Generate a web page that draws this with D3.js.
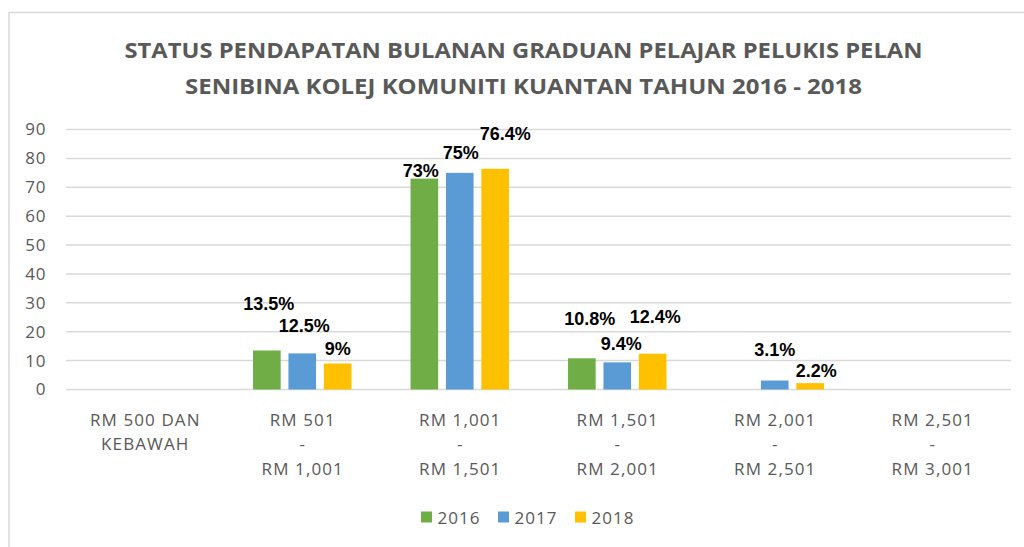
<!DOCTYPE html>
<html><head><meta charset="utf-8">
<script src="https://cdn.jsdelivr.net/npm/d3@7"></script>
<style>
html,body{margin:0;padding:0;background:#fff;}
svg{display:block;}
</style></head>
<body>
<svg id="chart" width="1024" height="547"></svg>
<script>
const titleLines = ["STATUS PENDAPATAN BULANAN GRADUAN PELAJAR PELUKIS PELAN",
                    "SENIBINA KOLEJ KOMUNITI KUANTAN TAHUN 2016 - 2018"];
const categories = [
  ["RM 500 DAN", "KEBAWAH"],
  ["RM 501", "-", "RM 1,001"],
  ["RM 1,001", "-", "RM 1,501"],
  ["RM 1,501", "-", "RM 2,001"],
  ["RM 2,001", "-", "RM 2,501"],
  ["RM 2,501", "-", "RM 3,001"]
];
const seriesNames = ["2016", "2017", "2018"];
const values2016 = [0, 13.5, 73, 10.8, 0, 0];
const values2017 = [0, 12.5, 75, 9.4, 3.1, 0];
const values2018 = [0, 9, 76.4, 12.4, 2.2, 0];
const yTicks = [0, 10, 20, 30, 40, 50, 60, 70, 80, 90];

// layout / style (not data)
const colors = ["#70AD47", "#5B9BD5", "#FFC000"];
// manual label nudges [dx, dy] per series per category (Excel-moved labels)
const labelNudge = [
  [[0,0],[2,-46.5],[-3.5,-7.5],[8,-39],[0,0],[0,0]],
  [[0,0],[2,-27],[1,-20],[4,-18],[0,-30.5],[0,0]],
  [[0,0],[0,-14.5],[10,-34.7],[2.5,-36.4],[6,-12],[0,0]]
];

const series = [values2016, values2017, values2018];
const svg = d3.select("#chart");
const plot = {left: 66, right: 1011, top: 129.5, bottom: 389.5};
const axisFont = "'Open Sans', sans-serif";

// chart border
svg.append("rect").attr("x", 9).attr("y", 12.5).attr("width", 1030).attr("height", 560)
  .attr("fill", "#fff").attr("stroke", "#d9d9d9").attr("stroke-width", 1.5);

// title
titleLines.forEach((t, i) => {
  svg.append("text")
    .attr("x", 523.5).attr("y", 49 + i * 36.5)
    .attr("text-anchor", "middle").attr("dominant-baseline", "central")
    .attr("font-family", axisFont).attr("font-weight", "bold")
    .attr("font-size", 21.5).attr("fill", "#595959")
    .attr("textLength", i === 0 ? 798 : 677).attr("lengthAdjust", "spacingAndGlyphs")
    .text(t);
});

const catIdx = d3.range(categories.length);
const x0 = d3.scaleBand().domain(catIdx).range([plot.left, plot.right])
  .paddingInner(0.375).paddingOuter(0.1875);
const x1 = d3.scaleBand().domain(d3.range(series.length)).range([0, x0.bandwidth()])
  .paddingInner(0.22).paddingOuter(0);
const y = d3.scaleLinear().domain([0, 90]).range([plot.bottom, plot.top]);

// gridlines
svg.append("g").selectAll("line").data(yTicks).join("line")
  .attr("x1", plot.left).attr("x2", plot.right)
  .attr("y1", d => y(d)).attr("y2", d => y(d))
  .attr("stroke", "#d9d9d9").attr("stroke-width", 1.5);

// y axis labels
const yAxis = svg.append("g").attr("transform", `translate(${plot.left},0)`)
  .call(d3.axisLeft(y).tickValues(yTicks).tickSize(0).tickPadding(20));
yAxis.select(".domain").remove();
yAxis.selectAll("text").attr("font-family", axisFont)
  .attr("font-size", 17).attr("letter-spacing", 0.6).attr("fill", "#595959");

// bars
series.forEach((vals, s) => {
  svg.append("g").selectAll("rect").data(vals).join("rect")
    .attr("x", (d, i) => x0(i) + x1(s))
    .attr("width", x1.bandwidth())
    .attr("y", d => y(d))
    .attr("height", d => y(0) - y(d))
    .attr("fill", colors[s]);
});

// data labels
series.forEach((vals, s) => {
  svg.append("g").selectAll("text").data(vals.map((v, i) => ({v, i})).filter(d => d.v > 0)).join("text")
    .attr("x", d => x0(d.i) + x1(s) + x1.bandwidth() / 2 + labelNudge[s][d.i][0])
    .attr("y", d => y(d.v) + labelNudge[s][d.i][1])
    .attr("text-anchor", "middle").attr("dominant-baseline", "central")
    .attr("font-family", "'Liberation Sans', Arial, sans-serif").attr("font-weight", "bold")
    .attr("font-size", 18).attr("fill", "#000")
    .text(d => d.v + "%");
});

// category labels
const xAxis = svg.append("g");
categories.forEach((lines, i) => {
  lines.forEach((ln, j) => {
    xAxis.append("text")
      .attr("x", x0(i) + x0.bandwidth() / 2 + 0.5)
      .attr("y", 419 + j * 24.7)
      .attr("text-anchor", "middle").attr("dominant-baseline", "central")
      .attr("font-family", axisFont).attr("font-size", 17).attr("letter-spacing", 1.1)
      .attr("fill", "#595959").text(ln);
  });
});

// legend
const legendX = [421, 498, 575];
const legend = svg.append("g");
seriesNames.forEach((n, i) => {
  legend.append("rect").attr("x", legendX[i]).attr("y", 511.5).attr("width", 11).attr("height", 11)
    .attr("fill", colors[i]);
  legend.append("text").attr("x", legendX[i] + 16.5).attr("y", 517)
    .attr("dominant-baseline", "central")
    .attr("font-family", axisFont).attr("font-size", 17).attr("letter-spacing", 1)
    .attr("fill", "#595959").text(n);
});
</script>
</body></html>
